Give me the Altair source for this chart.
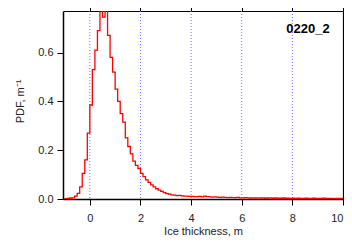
import altair as alt
import pandas as pd

# ---- data ----
bin_start = -1.0
bin_width = 0.1
pdf = [
    0.001, 0.002, 0.004, 0.005, 0.012, 0.023, 0.05, 0.105, 0.16, 0.27,      # -1.0 .. -0.1
    0.385, 0.53, 0.61, 0.69, 0.80, 0.745, 0.80, 0.67, 0.58, 0.52,           # 0.0 .. 0.9
    0.45, 0.40, 0.35, 0.315, 0.25, 0.215, 0.185, 0.155, 0.138, 0.125,       # 1.0 .. 1.9
    0.105, 0.092, 0.078, 0.068, 0.058, 0.05, 0.042, 0.036, 0.031, 0.026,    # 2.0 .. 2.9
    0.022, 0.02, 0.017, 0.016, 0.014, 0.015, 0.013, 0.012, 0.012, 0.011,    # 3.0 .. 3.9
    0.011, 0.010, 0.010, 0.011, 0.009, 0.012, 0.010, 0.009, 0.008, 0.009,   # 4.0 .. 4.9
    0.008, 0.007, 0.008, 0.007, 0.006, 0.007, 0.006, 0.006, 0.007, 0.005,   # 5.0 .. 5.9
    0.005, 0.006, 0.005, 0.004, 0.005, 0.004, 0.005, 0.004, 0.004, 0.003,   # 6.0 .. 6.9
    0.004, 0.004, 0.003, 0.004, 0.003, 0.003, 0.004, 0.003, 0.003, 0.002,   # 7.0 .. 7.9
    0.003, 0.002, 0.003, 0.002, 0.002, 0.003, 0.002, 0.002, 0.003, 0.002,   # 8.0 .. 8.9
    0.002, 0.002, 0.003, 0.002, 0.002, 0.002, 0.001, 0.002, 0.002, 0.002,   # 9.0 .. 9.9
]
x_ticks = [0, 2, 4, 6, 8, 10]
y_ticks = [0.0, 0.2, 0.4, 0.6]
grid_lines = [0, 2, 4, 6, 8]
label = "0220_2"
x_title = "Ice thickness, m"
y_title = "PDF, m\u207b\u00b9"

edges = [round(bin_start + i * bin_width, 1) for i in range(len(pdf) + 1)]
df = pd.DataFrame({"x": edges, "pdf": pdf + [pdf[-1]]})

FONT = "Liberation Sans"
xscale = alt.Scale(domain=[-1.06, 10], nice=False, zero=False)
yscale = alt.Scale(domain=[0, 0.77], nice=False, zero=False)

common = dict(tickColor="black", domainColor="black", grid=False, labelFont=FONT,
              titleFont=FONT)

grid = alt.Chart(pd.DataFrame({"g": grid_lines})).mark_rule(
    color="#7070ff", strokeDash=[1, 2], strokeWidth=1
).encode(x=alt.X("g:Q", scale=xscale, axis=None))

line = alt.Chart(df).mark_line(
    interpolate="step-after", color="#ff0000", strokeWidth=1.3, clip=True
).encode(
    x=alt.X("x:Q", scale=xscale, axis=alt.Axis(
        orient="bottom", values=x_ticks, format="d", title=x_title,
        tickSize=6, domainWidth=1.5, labelFontSize=11, labelColor="#222",
        labelPadding=7, labelFlush=True, titleFontSize=11, titleFontWeight="normal",
        titleColor="#222", titleY=32, titleBaseline="middle", **common)),
    y=alt.Y("pdf:Q", scale=yscale, axis=alt.Axis(
        orient="left", values=y_ticks, format=".1f", title=y_title,
        tickSize=6, domainWidth=1.5, labelFontSize=11, labelColor="#222",
        labelPadding=4, labelFlush=False, titleFontSize=11, titleFontWeight="normal",
        titleColor="#222", titleX=-43, titleY=90, titleAlign="center",
        titleBaseline="middle", **common)),
)

mirror = alt.Chart(df).mark_line(opacity=0).encode(
    x=alt.X("x:Q", scale=xscale, axis=alt.Axis(
        orient="top", values=x_ticks, labels=False, title="", tickSize=10,
        domainWidth=1, **common)),
    y=alt.Y("pdf:Q", scale=yscale, axis=alt.Axis(
        orient="right", values=y_ticks, labels=False, title="", tickSize=5,
        domainWidth=1.2, **common)),
)

tag = alt.Chart(pd.DataFrame({"t": [label]})).mark_text(
    font=FONT, fontSize=13, fontWeight="bold", align="center", baseline="middle",
    color="black"
).encode(text="t:N", x=alt.value(245), y=alt.value(18))

chart = alt.layer(grid, line, mirror, tag).resolve_axis(
    x="independent", y="independent"
).properties(
    width=280, height=188,
    autosize=alt.AutoSizeParams(type="none"),
    padding={"left": 55, "top": 3, "right": 1, "bottom": 38},
).configure_view(stroke=None)

chart.save("out.html", embed_options={"renderer": "svg", "actions": False})
